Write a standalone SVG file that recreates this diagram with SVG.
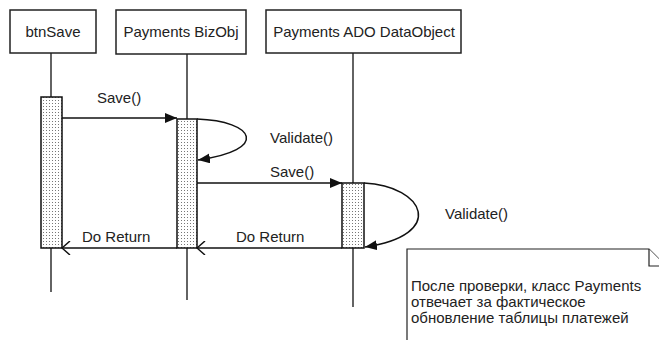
<svg xmlns="http://www.w3.org/2000/svg" width="659" height="340" viewBox="0 0 659 340">
<style>
text{font-family:"Liberation Sans",Arial,sans-serif;font-size:15px;fill:#222}
.box{fill:#fff;stroke:#222;stroke-width:1.5}
.life{stroke:#222;stroke-width:1.4;fill:none}
.act{fill:url(#dots);stroke:#111;stroke-width:1.5}
.msg{stroke:#111;stroke-width:1.5;fill:none}
.note{fill:#fff;stroke:#222;stroke-width:1.2}
</style>
<defs>
<pattern id="dots" width="3" height="3" patternUnits="userSpaceOnUse">
<rect width="3" height="3" fill="#fff"/>
<rect x="1" y="1" width="1" height="1" fill="#777"/>
</pattern>
<marker id="fill" viewBox="0 0 12 10" refX="12" refY="5" markerWidth="12" markerHeight="10" markerUnits="userSpaceOnUse" orient="auto">
<path d="M0,0 L12,5 L0,10 Z" fill="#111"/>
</marker>
<marker id="open" viewBox="0 0 10 14" refX="9" refY="7" markerWidth="10" markerHeight="14" markerUnits="userSpaceOnUse" orient="auto">
<path d="M1,0 L9,7 L1,14" fill="none" stroke="#111" stroke-width="1.5"/>
</marker>
</defs>
<g id="btnSave">
<rect class="box" x="10" y="10" width="86" height="43"/>
<text x="53" y="37" text-anchor="middle">btnSave</text>
<line class="life" x1="51" y1="53" x2="51" y2="292"/>
<rect class="act" x="41" y="97" width="21" height="151"/>
</g>
<g id="bizobj">
<rect class="box" x="116" y="10" width="130" height="44"/>
<text x="181" y="37" text-anchor="middle">Payments BizObj</text>
<line class="life" x1="187" y1="54" x2="187" y2="300"/>
<rect class="act" x="177" y="119" width="20" height="129"/>
</g>
<g id="ado">
<rect class="box" x="266" y="10" width="195" height="43"/>
<text x="364" y="37" text-anchor="middle">Payments ADO DataObject</text>
<line class="life" x1="353" y1="53" x2="353" y2="307"/>
<rect class="act" x="342" y="183" width="22" height="65"/>
</g>
<g id="connectors">
<line class="msg" x1="62" y1="118" x2="177" y2="118" marker-end="url(#fill)"/>
<text x="97" y="103">Save()</text>
<path class="msg" d="M197,119 C255,121 270,150 198,160" marker-end="url(#fill)"/>
<text x="270" y="143">Validate()</text>
<line class="msg" x1="197" y1="183" x2="342" y2="183" marker-end="url(#fill)"/>
<text x="270" y="177">Save()</text>
<path class="msg" d="M364,183 C425,186 447,235 365,247" marker-end="url(#fill)"/>
<text x="445" y="219">Validate()</text>
<line class="msg" x1="342" y1="248" x2="197" y2="248" marker-end="url(#open)"/>
<text x="236" y="242">Do Return</text>
<line class="msg" x1="177" y1="248" x2="62" y2="248" marker-end="url(#open)"/>
<text x="82" y="242">Do Return</text>
</g>
<g id="note">
<path class="note" d="M407,341 V249 H649 L666,266 V341 Z"/>
<path class="note" d="M649,249 V266 H666" fill="none"/>
<text x="411" y="291" font-size="15.3">После проверки, класс Payments</text>
<text x="411" y="307" font-size="15.3">отвечает за фактическое</text>
<text x="411" y="323" font-size="15.3">обновление таблицы платежей</text>
</g>
</svg>
